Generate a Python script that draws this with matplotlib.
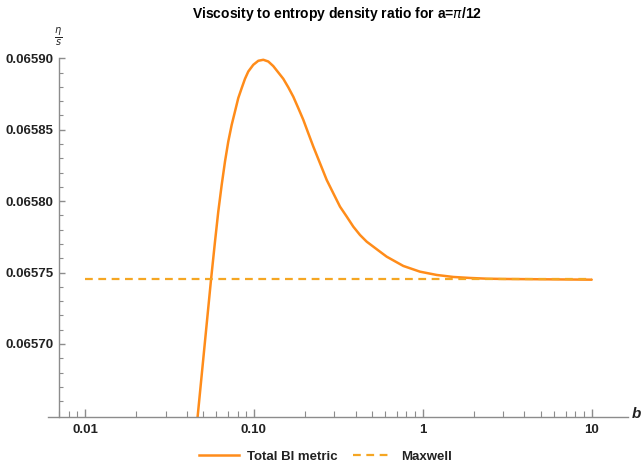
import numpy as np
import matplotlib
matplotlib.use("Agg")
import matplotlib.pyplot as plt
from matplotlib.ticker import FixedLocator, FixedFormatter, NullFormatter
from matplotlib.lines import Line2D

# values
b_vals = [0.0419, 0.04648, 0.05572, 0.05884, 0.06153, 0.06446, 0.06744, 0.07053,
          0.07389, 0.07727, 0.08082, 0.08468, 0.08857, 0.09265, 0.09918, 0.1062,
          0.1137, 0.1217, 0.1302, 0.1493, 0.1599, 0.1712, 0.1833, 0.1961,
          0.2099, 0.2247, 0.2698, 0.2952, 0.3235, 0.3542, 0.3878, 0.4247,
          0.4654, 0.5578, 0.6112, 0.7669, 0.9625, 1.209, 1.516, 1.904,
          2.389, 2.997, 10.0]
ratio_bi = [0.065598, 0.0656496, 0.0657448, 0.0657716, 0.0657926, 0.0658113,
            0.0658277, 0.0658417, 0.0658534, 0.0658627, 0.0658721, 0.0658791,
            0.0658856, 0.0658907, 0.0658954, 0.0658982, 0.0658989, 0.0658977,
            0.0658945, 0.0658856, 0.0658796, 0.0658730, 0.0658650, 0.0658569,
            0.0658475, 0.0658382, 0.0658148, 0.0658055, 0.0657961, 0.0657892,
            0.0657821, 0.0657763, 0.0657716, 0.0657646, 0.0657611, 0.0657546,
            0.0657506, 0.0657483, 0.0657469, 0.0657462, 0.0657457, 0.0657455,
            0.0657450]
maxwell_b = [0.01, 10.0]
maxwell_ratio = 0.0657453

x_ticks = [0.01, 0.1, 1, 10]
x_tick_labels = ["0.01", "0.10", "1", "10"]
y_ticks = [0.06570, 0.06575, 0.06580, 0.06585, 0.06590]
y_tick_labels = ["0.06570", "0.06575", "0.06580", "0.06585", "0.06590"]

plt.rcParams['font.family'] = ['Liberation Sans', 'DejaVu Sans']

fig = plt.figure(figsize=(6.42, 4.67), dpi=100)
ax = fig.add_axes([48 / 642, 1 - 416.7 / 467, 580 / 642, (416.7 - 57.5) / 467])

orange = '#ff8c1a'
ax.plot(b_vals, ratio_bi, color=orange, lw=1.8, solid_capstyle='round',
        solid_joinstyle='round')
ax.plot(maxwell_b, [maxwell_ratio] * 2, color='#f5a623', lw=1.6, dashes=(3.5, 2.5))

ax.set_xscale('log')
ax.set_xlim(0.00604, 16.4)
ax.set_ylim(0.0656491, 0.0659005)

# Mathematica-like axes
for s in ['top', 'right']:
    ax.spines[s].set_visible(False)
axis_col = '#8c8c8c'
ax.spines['left'].set_position(('data', 0.007))
ax.spines['left'].set_color(axis_col)
ax.spines['bottom'].set_color(axis_col)
ax.spines['left'].set_linewidth(1.0)
ax.spines['bottom'].set_linewidth(1.0)

ax.xaxis.set_major_locator(FixedLocator(x_ticks))
ax.xaxis.set_major_formatter(FixedFormatter(x_tick_labels))
minor_x = [m * 10.0 ** e for e in range(-3, 1) for m in range(2, 10)]
ax.xaxis.set_minor_locator(FixedLocator(minor_x))
ax.xaxis.set_minor_formatter(NullFormatter())

ax.yaxis.set_major_locator(FixedLocator(y_ticks))
ax.yaxis.set_major_formatter(FixedFormatter(y_tick_labels))
minor_y = [0.06566 + 0.00001 * i for i in range(25) if i % 5 != 4]
ax.yaxis.set_minor_locator(FixedLocator(minor_y))

ax.tick_params(axis='both', which='both', direction='in', color=axis_col)
ax.tick_params(axis='x', which='major', length=6, width=1.0, labelsize=9.5, pad=5)
ax.tick_params(axis='x', which='minor', length=4, width=0.8)
ax.tick_params(axis='y', which='major', length=4, width=1.0, labelsize=9.5, pad=4)
ax.tick_params(axis='y', which='minor', length=3, width=0.8)
for lab in ax.get_xticklabels() + ax.get_yticklabels():
    lab.set_fontweight('bold')
    lab.set_color('#222222')

fig.text(337 / 642, 1 - 14 / 467, r"Viscosity to entropy density ratio for a=$\pi$/12",
         ha='center', va='center', fontsize=10, fontweight='bold')
fig.text(58 / 642, 1 - 37 / 467, r"$\frac{\eta}{s}$", ha='center', va='center',
         fontsize=10, color='#222222')
fig.text(636 / 642, 1 - 414 / 467, "b", ha='center', va='center', fontsize=11,
         fontstyle='italic', fontweight='bold', color='#222222')

handles = [Line2D([], [], color=orange, lw=1.8),
           Line2D([], [], color='#f5a623', lw=1.6, dashes=(3.5, 2.5))]
leg = fig.legend(handles, ["Total BI metric", "Maxwell"], loc='center',
                 bbox_to_anchor=(0.507, 1 - 456.7 / 467), ncol=2, frameon=False,
                 handlelength=3.0, columnspacing=1.2, handletextpad=0.6,
                 prop={'size': 9.5, 'weight': 'bold'})
for t in leg.get_texts():
    t.set_color('#222222')

fig.savefig('out.png', dpi=100)
